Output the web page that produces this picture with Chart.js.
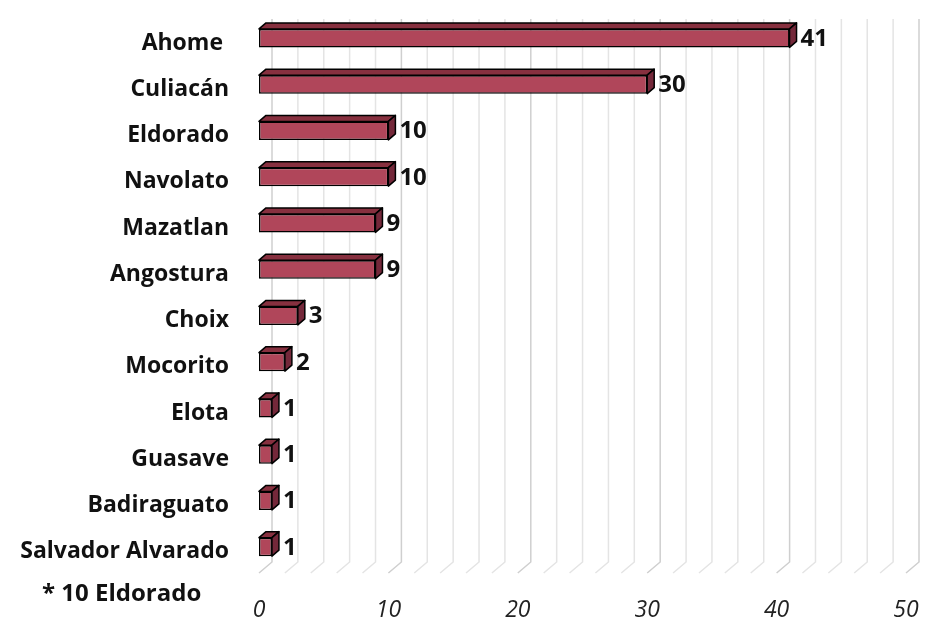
<!DOCTYPE html>
<html>
<head>
<meta charset="utf-8">
<script src="https://cdn.jsdelivr.net/npm/chart.js@4.4.0/dist/chart.umd.min.js"></script>
<style>
  html, body { margin: 0; padding: 0; background: #fff; }
  #wrap { position: relative; width: 929px; height: 623px; }
  #note { position: absolute; left: 42px; top: 575px; font: 700 24px 'Open Sans', sans-serif; color: #111; }
</style>
</head>
<body>
<div id="wrap">
  <canvas id="chart" width="929" height="623"></canvas>
  <div id="note">* 10 Eldorado</div>
</div>
<script>
const municipios = ['Ahome ', 'Culiacán', 'Eldorado', 'Navolato', 'Mazatlan', 'Angostura', 'Choix', 'Mocorito', 'Elota', 'Guasave', 'Badiraguato', 'Salvador Alvarado'];
const casos = [41, 30, 10, 10, 9, 9, 3, 2, 1, 1, 1, 1];
const xTicks = [0, 10, 20, 30, 40, 50];

const FRONT = '#b0465a';
const TOP = '#87303f';
const SIDE = '#74283a';
const DEPTH_X = 7, DEPTH_Y = 6;   // bar extrusion
const WALL_X = 13, WALL_Y = 11;   // back wall offset

// back wall + floor gridlines, every 2 units
const wallGrid = {
  id: 'wallGrid',
  beforeDatasetsDraw(chart) {
    const { ctx, chartArea, scales: { x } } = chart;
    ctx.save();
    for (let v = 0; v <= 50; v += 2) {
      const px = x.getPixelForValue(v);
      ctx.strokeStyle = v % 10 === 0 ? '#cfcfcf' : '#e4e4e4';
      ctx.lineWidth = 1.5;
      ctx.beginPath();
      ctx.moveTo(px + WALL_X, chartArea.top + 4);
      ctx.lineTo(px + WALL_X, chartArea.bottom - 8);
      ctx.lineTo(px, chartArea.bottom + WALL_Y - 8);
      ctx.stroke();
    }
    ctx.restore();
  }
};

// top and side faces of each bar plus value labels
const bars3d = {
  id: 'bars3d',
  afterDatasetsDraw(chart) {
    const { ctx } = chart;
    const meta = chart.getDatasetMeta(0);
    ctx.save();
    ctx.lineWidth = 1.5;
    ctx.strokeStyle = '#000';
    ctx.lineJoin = 'round';
    meta.data.forEach((bar, i) => {
      const { x, y, base, height } = bar.getProps(['x', 'y', 'base', 'height'], true);
      const t = y - height / 2, b = y + height / 2;
      // top face
      ctx.fillStyle = TOP;
      ctx.beginPath();
      ctx.moveTo(base, t);
      ctx.lineTo(base + DEPTH_X, t - DEPTH_Y);
      ctx.lineTo(x + DEPTH_X, t - DEPTH_Y);
      ctx.lineTo(x, t);
      ctx.closePath();
      ctx.fill();
      ctx.stroke();
      // side face
      ctx.fillStyle = SIDE;
      ctx.beginPath();
      ctx.moveTo(x, t);
      ctx.lineTo(x + DEPTH_X, t - DEPTH_Y);
      ctx.lineTo(x + DEPTH_X, b - DEPTH_Y);
      ctx.lineTo(x, b);
      ctx.closePath();
      ctx.fill();
      ctx.stroke();
      // value label
      ctx.fillStyle = '#111';
      ctx.font = "700 24px 'Open Sans', sans-serif";
      ctx.textAlign = 'left';
      ctx.textBaseline = 'middle';
      ctx.fillText(String(casos[i]), x + DEPTH_X + 4, y + 1);
    });
    ctx.restore();
  }
};

new Chart(document.getElementById('chart'), {
  type: 'bar',
  data: {
    labels: municipios,
    datasets: [{
      data: casos,
      backgroundColor: FRONT,
      borderColor: '#000',
      borderWidth: 1.5,
      borderSkipped: false,
      categoryPercentage: 1,
      barPercentage: 0.4
    }]
  },
  options: {
    indexAxis: 'y',
    responsive: false,
    animation: false,
    layout: { padding: { top: 15, right: 23, left: 0, bottom: 0 } },
    plugins: { legend: { display: false }, tooltip: { enabled: false } },
    scales: {
      x: {
        min: 0,
        max: 50,
        afterBuildTicks: (s) => { s.ticks = xTicks.map(v => ({ value: v })); },
        grid: { display: false, drawTicks: false },
        border: { display: false },
        ticks: { padding: 27, color: '#222', font: { family: 'Open Sans', size: 23, style: 'italic' } },
        afterFit: (s) => { s.height = 53; s.paddingLeft = 0; s.paddingRight = 0; }
      },
      y: {
        grid: { display: false, drawTicks: false },
        border: { display: false },
        ticks: { padding: 30, labelOffset: 5, color: '#111', font: { family: 'Open Sans', size: 23, weight: '700' } },
        afterFit: (s) => { s.width = 259; s.paddingTop = 0; s.paddingBottom = 0; }
      }
    }
  },
  plugins: [wallGrid, bars3d]
});
</script>
</body>
</html>
